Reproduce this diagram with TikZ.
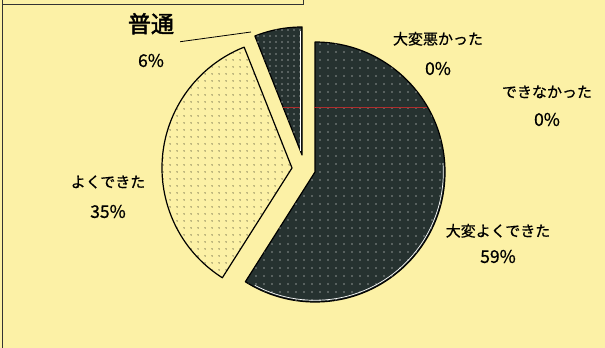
\documentclass[tikz,border=0pt]{standalone}
\usepackage{fontspec}
\setmainfont{Noto Sans CJK JP}[FakeBold=0.7]
\newfontfamily\boldjp{Noto Sans CJK JP}[FakeBold=2]
\usetikzlibrary{positioning, patterns.meta}

\definecolor{paper}{RGB}{252,241,166}
\definecolor{slate}{RGB}{38,50,48}
\definecolor{redmark}{RGB}{175,45,45}

\tikzset{
  lbl/.style={inner sep=0pt, text height=12pt, text depth=3pt,
    font=\fontsize{15}{18}\selectfont},
  pct/.style={inner sep=0pt, text height=12pt, text depth=3pt,
    font=\fontsize{17.5}{20}\selectfont},
  slice/.style={draw=black, line width=1.2pt, line join=round},
  darkslice/.style={slice, fill=slate,
    postaction={pattern={Dots[distance=8pt, radius=0.6pt]}, pattern color=white}},
  fineslice/.style={slice, fill=slate,
    postaction={pattern={Dots[distance=6pt, radius=0.55pt]}, pattern color=white}},
  lightslice/.style={slice, fill=paper,
    postaction={pattern={Dots[distance=6.5pt, radius=0.6pt]}, pattern color=black}},
  shine/.style={white, line width=0.7pt},
}

\begin{document}
\begin{tikzpicture}[x=1pt, y=1pt]
\fill[paper] (0,0) rectangle (605,348);
\useasboundingbox (0,0) rectangle (605,348);

% edge of the box above
\draw[line width=0.8pt, black!80] (2,0) -- (2,348);
\draw[line width=0.8pt, black!80] (2,344) -- (303,344) -- (303,348);

% slices
\coordinate (o59) at (315,176);
\coordinate (o35) at (292,180);
\coordinate (o6) at (302,193);

\draw[darkslice] (o59) -- ++(90:130)
    arc[start angle=90, end angle=-122.4, radius=130] -- cycle;
\draw[shine] ([shift={(4:128.3)}]o59)
    arc[start angle=4, end angle=-118, radius=128.3];

\draw[lightslice] (o35) -- ++(237.6:130)
    arc[start angle=237.6, end angle=111.6, radius=130] -- cycle;

\draw[fineslice] (o6) -- ++(111.6:128)
    arc[start angle=111.6, end angle=90, radius=128] -- cycle;
\draw[shine] ([xshift=-1.8pt, yshift=4pt]o6) -- ++(0,120);

% stray red mark
\draw[redmark, line width=0.8pt]
    (283,241) -- (300,241) (314,241) -- (427,241);

% labels
\node[lbl, font=\fontsize{23}{26}\boldjp] (l1) at (151,320) {普通};
\node[pct, below=19pt of l1] (p1) {6\%};
\coordinate[below right=6pt and 6pt of l1] (c0);
\coordinate (c1) at (251,316);
\draw[line width=0.8pt] (c0) -- (c1);

\node[lbl] (l2) at (438,308) {大変悪かった};
\node[pct, below=15pt of l2] (p2) {0\%};

\node[lbl] (l3) at (547,255) {できなかった};
\node[pct, below=13pt of l3] (p3) {0\%};

\node[lbl] (l4) at (108,165) {よくできた};
\node[pct, below=15pt of l4] (p4) {35\%};

\node[lbl] (l5) at (498,116) {大変よくできた};
\node[pct, below=11pt of l5] (p5) {59\%};
\end{tikzpicture}
\end{document}
